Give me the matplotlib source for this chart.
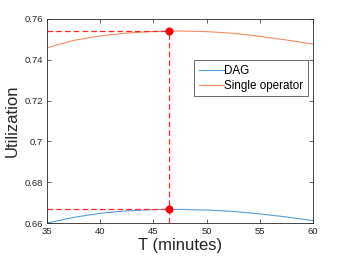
import matplotlib
matplotlib.use("Agg")
import matplotlib.pyplot as plt

plt.rcParams['font.family'] = ['Liberation Sans', 'DejaVu Sans']

# values
t_minutes = [35, 37.5, 40, 42.5, 45, 46.5, 47.5, 50, 52.5, 55, 57.5, 60]
util_dag = [0.6600, 0.6628, 0.6648, 0.6660, 0.6666, 0.6667, 0.6667,
            0.6664, 0.6657, 0.6645, 0.6630, 0.6612]
util_single = [0.7459, 0.7495, 0.7517, 0.7531, 0.7539, 0.7541, 0.7541,
               0.7538, 0.7530, 0.7515, 0.7497, 0.7477]
t_opt = 46.5
dag_opt = 0.6667
single_opt = 0.7541

yticks = [0.66, 0.68, 0.70, 0.72, 0.74, 0.76]
ytick_labels = ["0.66", "0.68", "0.7", "0.72", "0.74", "0.76"]
xticks = [35, 40, 45, 50, 55, 60]

fig = plt.figure(figsize=(3.46, 2.6), dpi=100)
ax = fig.add_axes([0.136, 0.142, 0.769, 0.785])

blue = (0.35, 0.62, 0.85)
orange = (0.95, 0.55, 0.40)
red = (1.0, 0.15, 0.15)

ax.plot(t_minutes, util_dag, color=blue, lw=0.8, label="DAG")
ax.plot(t_minutes, util_single, color=orange, lw=0.8, label="Single operator")

# dashed guide lines to the optimum
ax.plot([35, t_opt], [single_opt, single_opt], '--', color=red, lw=0.9,
        dashes=(4.5, 2.5))
ax.plot([35, t_opt], [dag_opt, dag_opt], '--', color=red, lw=0.9,
        dashes=(4.5, 2.5))
ax.plot([t_opt, t_opt], [0.66, single_opt], '--', color=red, lw=0.9,
        dashes=(4.5, 2.5))
ax.plot([t_opt, t_opt], [dag_opt, single_opt], 'o', color=(1.0, 0.0, 0.0),
        ms=4.8)

ax.set_xlim(35, 60)
ax.set_ylim(0.66, 0.76)
ax.set_xticks(xticks)
ax.set_yticks(yticks)
ax.set_yticklabels(ytick_labels)

edge = (0.15, 0.15, 0.15)
for s in ax.spines.values():
    s.set_color(edge)
    s.set_linewidth(0.6)
ax.tick_params(direction='in', top=True, right=True, length=3, width=0.5,
               colors=edge, labelsize=6.8, pad=3)

ax.set_xlabel("T (minutes)", fontsize=12, color=edge, labelpad=1)
ax.set_ylabel("Utilization", fontsize=12, color=edge, labelpad=3)

leg = ax.legend(loc='upper left', bbox_to_anchor=(0.552, 0.799), fontsize=8.4,
                frameon=True, fancybox=False, handlelength=2.2,
                handletextpad=0.0, borderpad=0.4, labelspacing=0.25,
                borderaxespad=0)
leg.get_frame().set_edgecolor(edge)
leg.get_frame().set_linewidth(0.6)

fig.savefig("out.png", dpi=100)
